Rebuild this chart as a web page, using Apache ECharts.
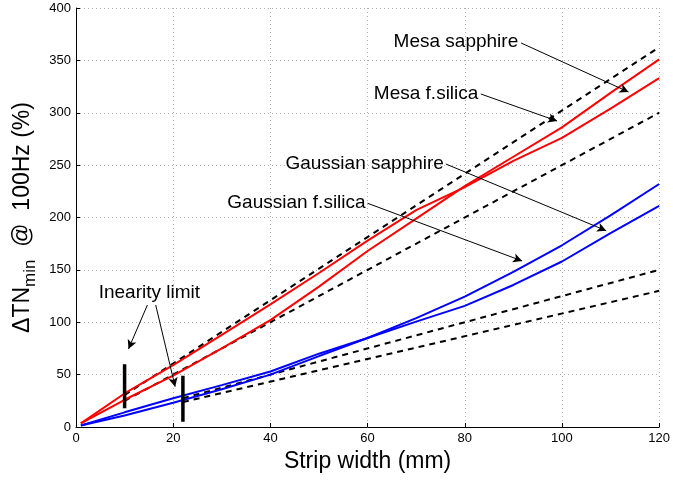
<!DOCTYPE html>
<html>
<head>
<meta charset="utf-8">
<script src="https://cdn.jsdelivr.net/npm/echarts@6/dist/echarts.min.js"></script>
<style>html,body{margin:0;padding:0;background:#fff}#c{width:673px;height:481px}</style>
</head>
<body>
<div id="c"></div>
<script>
// ---- data ----
const xs = [1, 10, 20, 30, 40, 50, 60, 70, 80, 90, 100, 110, 120];
const mesaA = [3.5, 26, 49, 75, 102, 134, 168, 199, 230, 258, 286, 319, 351];
const mesaB = [3.5, 32, 59, 88, 117, 147, 178, 207, 229, 254, 276, 304, 333];
const gaussA = [1.5, 14, 27.4, 40, 53, 70, 85, 104, 124.5, 148, 173.5, 202, 232];
const gaussB = [1.5, 11, 23.2, 36, 50, 67.7, 85, 100.6, 115.6, 135.6, 158, 185, 211];
const dashX1 = [10, 120];
const dashMesa1 = [30.5, 362.5];
const dashMesa2 = [25, 300];
const dashX2 = [22, 120];
const dashGauss1 = [27.5, 150];
const dashGauss2 = [23.8, 130];
const barAx = [10, 10], barAy = [18, 60];
const barBx = [22, 22], barBy = [5, 49];
const annoTexts = ['Mesa sapphire', 'Mesa f.silica', 'Gaussian sapphire', 'Gaussian f.silica'];
const annoAnchors = [[91.0, 367.5], [82.8, 318], [75.7, 251], [59.6, 213.6]];
const annoArrows = [
  [[91.6, 366.6], [113.7, 319.8]],
  [[83.3, 317.9], [99.0, 292.1]],
  [[76.1, 251.1], [109.1, 187.4]],
  [[60.0, 213.6], [91.8, 158.5]],
  [[14.7, 116.5], [10.8, 74.5]],
  [[16.4, 116.5], [20.4, 38.5]]
];
const limitText = 'Inearity limit';
const limitAnchor = [15.1, 128.6];
const xTicks = [0, 20, 40, 60, 80, 100, 120];
const yTicks = [0, 50, 100, 150, 200, 250, 300, 350, 400];

const zip = (a, b) => a.map((v, i) => [v, b[i]]);
const FONT = 'Liberation Sans, Arial, Helvetica, sans-serif';

const chart = echarts.init(document.getElementById('c'), null, {renderer: 'canvas'});
const gridLine = {show: true, lineStyle: {color: '#b0b0b0', type: [1, 3], width: 1}};
const solid = (name, x, y, color) => ({
  name, type: 'line', data: zip(x, y), symbol: 'none', smooth: false,
  lineStyle: {color, width: 2}, silent: true, z: 3
});
const dashed = (name, x, y) => ({
  name, type: 'line', data: zip(x, y), symbol: 'none',
  lineStyle: {color: '#000', width: 2, type: [6, 5]}, silent: true, z: 2
});
const bar = (name, x, y) => ({
  name, type: 'line', data: zip(x, y), symbol: 'none',
  lineStyle: {color: '#000', width: 3.5, cap: 'butt'}, silent: true, z: 4
});

chart.setOption({
  animation: false,
  grid: {left: 76, right: 10, top: 8, bottom: 54, containLabel: false},
  xAxis: {
    type: 'value', min: 0, max: 120, interval: 20,
    name: 'Strip width (mm)', nameLocation: 'middle', nameGap: 16,
    nameTextStyle: {fontFamily: FONT, fontSize: 23, color: '#000', verticalAlign: 'top'},
    axisLine: {show: true, lineStyle: {color: '#000', width: 1}},
    axisTick: {show: true, inside: true, length: 4, lineStyle: {color: '#000'}},
    axisLabel: {fontFamily: FONT, fontSize: 13, color: '#000', margin: 5,
      formatter: v => xTicks.includes(v) ? String(v) : ''},
    splitLine: gridLine
  },
  yAxis: {
    type: 'value', min: 0, max: 400, interval: 50,
    name: '{a|ΔTN}{s|min}{a|  @  100Hz (%)}', nameLocation: 'middle', nameGap: 34, nameRotate: 90,
    nameTextStyle: {fontFamily: FONT, fontSize: 23, color: '#000',
      rich: {a: {fontFamily: FONT, fontSize: 23, color: '#000'},
             s: {fontFamily: FONT, fontSize: 17, color: '#000', padding: [15, 0, 0, 0]}}},
    axisLine: {show: true, lineStyle: {color: '#000', width: 1}},
    axisTick: {show: true, inside: true, length: 4, lineStyle: {color: '#000'}},
    axisLabel: {fontFamily: FONT, fontSize: 13, color: '#000', margin: 5,
      formatter: v => yTicks.includes(v) ? String(v) : ''},
    splitLine: gridLine
  },
  series: [
    dashed('d1', dashX1, dashMesa1),
    dashed('d2', dashX1, dashMesa2),
    dashed('d3', dashX2, dashGauss1),
    dashed('d4', dashX2, dashGauss2),
    solid('Mesa A', xs, mesaA, '#ff0000'),
    solid('Mesa B', xs, mesaB, '#ff0000'),
    solid('Gauss A', xs, gaussA, '#0000ff'),
    solid('Gauss B', xs, gaussB, '#0000ff'),
    bar('limA', barAx, barAy),
    bar('limB', barBx, barBy),
    {
      name: 'arrows', type: 'line', data: [], silent: true, z: 5,
      markLine: {
        silent: true, animation: false,
        symbol: ['none', 'arrow'], symbolSize: [7, 9],
        label: {show: false},
        lineStyle: {color: '#000', width: 1, type: 'solid'},
        data: annoArrows.map(a => [{coord: a[0]}, {coord: a[1]}])
      }
    }
  ]
});

const texts = annoTexts.map((t, i) => {
  const p = chart.convertToPixel({gridIndex: 0}, annoAnchors[i]);
  return {type: 'text', x: p[0], y: p[1], silent: true, z: 10,
    style: {text: t, fontFamily: FONT, fontSize: 19, fill: '#000', align: 'right', verticalAlign: 'middle'}};
});
const lp = chart.convertToPixel({gridIndex: 0}, limitAnchor);
texts.push({type: 'text', x: lp[0], y: lp[1], silent: true, z: 10,
  style: {text: limitText, fontFamily: FONT, fontSize: 19, fill: '#000', align: 'center', verticalAlign: 'middle'}});
chart.setOption({graphic: texts});
</script>
</body>
</html>
